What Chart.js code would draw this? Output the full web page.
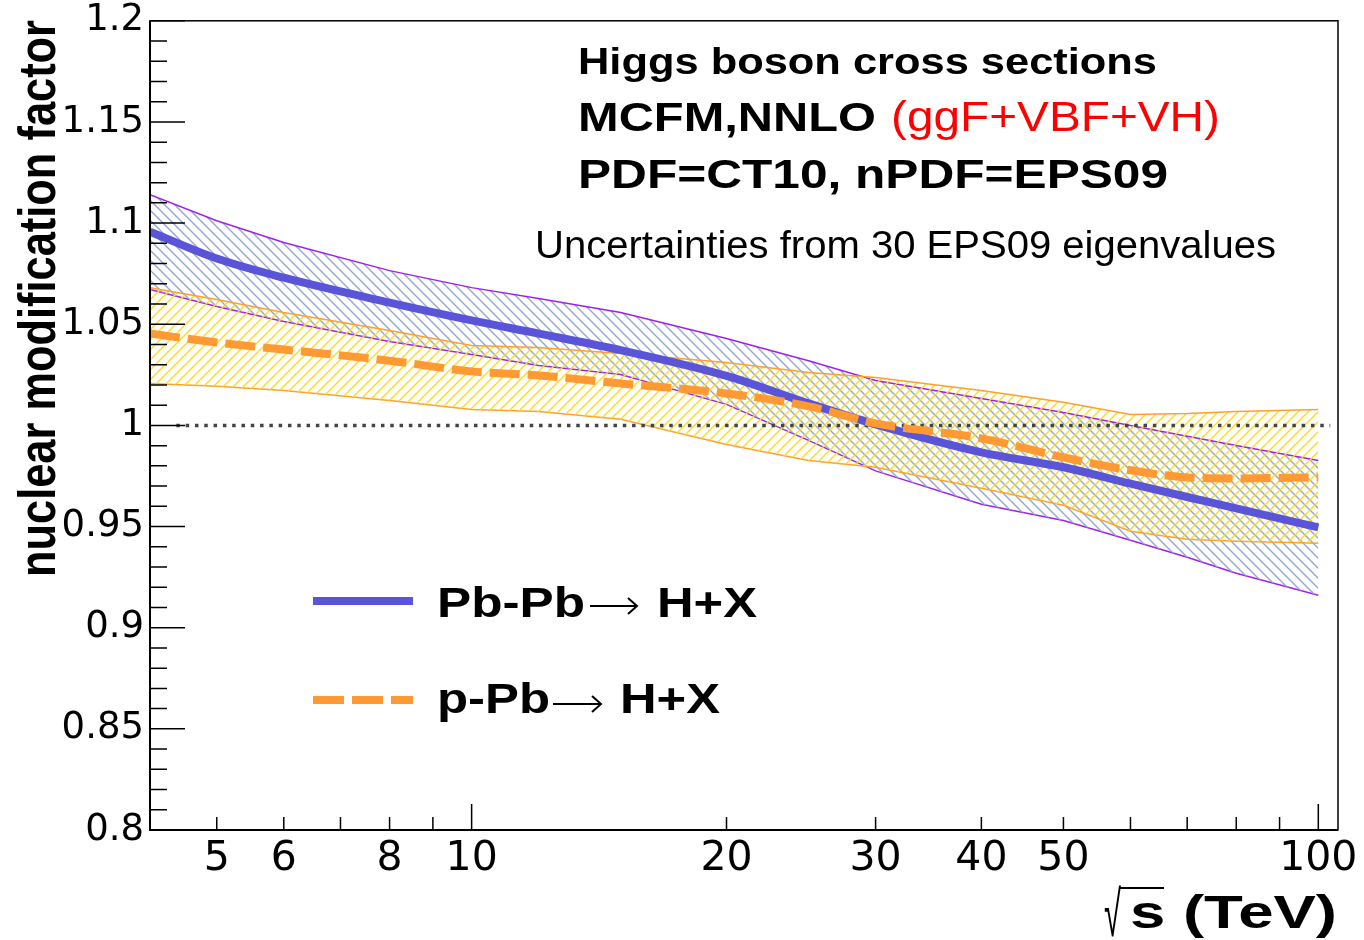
<!DOCTYPE html>
<html>
<head>
<meta charset="utf-8">
<script src="https://cdn.jsdelivr.net/npm/chart.js@4/dist/chart.umd.min.js"></script>
<style>
html,body{margin:0;padding:0;background:#fff;}
</style>
</head>
<body>
<canvas id="chart" width="1364" height="940"></canvas>
<script>
// ===== data (sqrt(s) in TeV) =====
const energies = [4.17, 5, 6, 8, 10, 12, 15, 20, 25, 30, 40, 50, 60, 70, 80, 100];

// Pb-Pb -> H+X : central + EPS09 band
const pbpbMid = [1.0958, 1.0825, 1.0730, 1.0607, 1.0519, 1.0454, 1.0372, 1.0245, 1.0109, 1.0005, 0.9867, 0.9793, 0.9712, 0.9646, 0.9590, 0.9496];
const pbpbUp  = [1.1141, 1.1012, 1.0904, 1.0765, 1.0681, 1.0627, 1.0558, 1.0430, 1.0320, 1.0222, 1.0133, 1.0064, 1.0000, 0.9946, 0.9901, 0.9827];
const pbpbLo  = [1.0672, 1.0588, 1.0514, 1.0415, 1.0351, 1.0296, 1.0252, 1.0104, 0.9926, 0.9775, 0.9610, 0.9530, 0.9432, 0.9348, 0.9269, 0.9160];

// p-Pb -> H+X
const ppbMid = [1.0454, 1.0410, 1.0375, 1.0320, 1.0267, 1.0247, 1.0207, 1.0158, 1.0094, 1.0010, 0.9936, 0.9842, 0.9778, 0.9743, 0.9738, 0.9743];
const ppbUp  = [1.0681, 1.0622, 1.0558, 1.0469, 1.0395, 1.0385, 1.0356, 1.0311, 1.0262, 1.0237, 1.0173, 1.0114, 1.0054, 1.0059, 1.0069, 1.0079];
const ppbLo  = [1.0207, 1.0193, 1.0173, 1.0123, 1.0079, 1.0069, 1.0030, 0.9906, 0.9827, 0.9793, 0.9689, 0.9605, 0.9477, 0.9437, 0.9427, 0.9417];

// reference line at 1
const refX = [4.48, 103.3];
const refY = 1;

// ticks
const xTicks  = [5, 6, 7, 8, 9, 10, 20, 30, 40, 50, 60, 70, 80, 90, 100];
const xLabels = [5, 6, 8, 10, 20, 30, 40, 50, 100];
const xMajor  = [10, 100];
const yTicks  = [0.8, 0.85, 0.9, 0.95, 1, 1.05, 1.1, 1.15, 1.2];
const yMinorStep = 0.01;

const pts = arr => energies.map((e, i) => ({x: e, y: arr[i]}));

const canvas = document.getElementById('chart');
const mainCtx = canvas.getContext('2d');

// ROOT-like hatch fill
function hatch(color, dir) {
  const c = document.createElement('canvas');
  c.width = 10; c.height = 10;
  const g = c.getContext('2d');
  g.strokeStyle = color;
  g.lineWidth = 1.4;
  g.beginPath();
  if (dir > 0) { // "/"
    g.moveTo(-1, 11); g.lineTo(11, -1);
    g.moveTo(-1, 1); g.lineTo(1, -1);
    g.moveTo(9, 11); g.lineTo(11, 9);
  } else { // "\"
    g.moveTo(-1, -1); g.lineTo(11, 11);
    g.moveTo(9, -1); g.lineTo(11, 1);
    g.moveTo(-1, 9); g.lineTo(1, 11);
  }
  g.stroke();
  return mainCtx.createPattern(c, 'repeat');
}

const BLUE = '#5a55d8';
const ORANGE = '#ff9933';
const PURPLE = '#a020f0';
const ORANGE_EDGE = '#ff9f30';

// draw text squeezed/stretched to a given width
function fitText(ctx, txt, x, y, font, w, color) {
  ctx.save();
  ctx.font = font;
  ctx.fillStyle = color || '#000';
  ctx.textBaseline = 'alphabetic';
  ctx.textAlign = 'left';
  const m = ctx.measureText(txt).width;
  ctx.translate(x, y);
  ctx.scale(w / m, 1);
  ctx.fillText(txt, 0, 0);
  ctx.restore();
}

// thin long arrow of the legend
function arrow(ctx, x0, x1, y) {
  ctx.save();
  ctx.strokeStyle = '#000';
  ctx.lineWidth = 2;
  ctx.beginPath();
  ctx.moveTo(x0, y); ctx.lineTo(x1, y);
  ctx.moveTo(x1 - 9, y - 8); ctx.lineTo(x1, y); ctx.lineTo(x1 - 9, y + 8);
  ctx.stroke();
  ctx.restore();
}

// ===== frame + inward ticks =====
const framePlugin = {
  id: 'frame',
  afterDraw(chart) {
    const {ctx, chartArea: a, scales: {x, y}} = chart;
    ctx.save();
    ctx.strokeStyle = '#000';
    ctx.lineWidth = 1.5;
    ctx.strokeRect(a.left, a.top, a.right - a.left, a.bottom - a.top);
    ctx.beginPath();
    xTicks.forEach(v => {
      const px = x.getPixelForValue(v);
      const len = xMajor.includes(v) ? 26 : 13;
      ctx.moveTo(px, a.bottom);
      ctx.lineTo(px, a.bottom - len);
    });
    for (let k = 0; k <= 40; k++) {
      const v = 0.8 + k * yMinorStep;
      const py = y.getPixelForValue(v);
      const len = (k % 5 === 0) ? 35 : 17;
      ctx.moveTo(a.left, py);
      ctx.lineTo(a.left + len, py);
    }
    ctx.stroke();
    ctx.lineWidth = 2;
    ctx.beginPath();
    ctx.moveTo(a.left, a.top); ctx.lineTo(a.left, a.bottom); ctx.lineTo(a.right, a.bottom);
    ctx.stroke();
    ctx.restore();
  }
};

// ===== texts, legend, axis titles =====
const textPlugin = {
  id: 'texts',
  afterDraw(chart) {
    const ctx = chart.ctx;
    const B = 'bold ', F = 'px "Liberation Sans", Arial, sans-serif';

    fitText(ctx, 'Higgs boson cross sections', 578, 74, B + 36 + F, 579);
    fitText(ctx, 'MCFM,NNLO', 578, 131, B + 41 + F, 298);
    fitText(ctx, '(ggF+VBF+VH)', 891, 131, 43 + F, 329, '#ff0000');
    fitText(ctx, 'PDF=CT10, nPDF=EPS09', 578, 188, B + 41 + F, 590);
    fitText(ctx, 'Uncertainties from 30 EPS09 eigenvalues', 535, 258, 38 + F, 741);

    // legend
    ctx.save();
    ctx.lineWidth = 8;
    ctx.strokeStyle = BLUE;
    ctx.beginPath(); ctx.moveTo(313, 601); ctx.lineTo(413, 601); ctx.stroke();
    ctx.strokeStyle = ORANGE;
    ctx.setLineDash([31, 8]);
    ctx.beginPath(); ctx.moveTo(313, 700); ctx.lineTo(413, 700); ctx.stroke();
    ctx.restore();
    fitText(ctx, 'Pb-Pb', 437, 617, B + 42 + F, 148);
    arrow(ctx, 590, 637, 606);
    fitText(ctx, 'H+X', 657, 617, B + 42 + F, 100);
    fitText(ctx, 'p-Pb', 437, 713, B + 42 + F, 113);
    arrow(ctx, 553, 601, 704);
    fitText(ctx, 'H+X', 620, 713, B + 42 + F, 100);

    // x title
    fitText(ctx, '\u221A', 1104, 936, 64 + F, 17);
    ctx.save();
    ctx.strokeStyle = '#000'; ctx.lineWidth = 2;
    ctx.beginPath(); ctx.moveTo(1119, 888); ctx.lineTo(1164, 888); ctx.stroke();
    ctx.restore();
    fitText(ctx, 's (TeV)', 1130, 928, B + 46 + F, 207);

    // y title (rotated)
    ctx.save();
    ctx.font = B + 43 + F;
    ctx.fillStyle = '#000';
    const t = 'nuclear modification factor';
    const m = ctx.measureText(t).width;
    ctx.translate(55, 577);
    ctx.rotate(-Math.PI / 2);
    ctx.scale(557 / m, 1.2);
    ctx.fillText(t, 0, 0);
    ctx.restore();
  }
};

const chart = new Chart(canvas, {
  type: 'line',
  data: {
    datasets: [
      {label: 'p-Pb', data: pts(ppbMid), borderColor: ORANGE, borderWidth: 8, borderDash: [30, 8],
       pointRadius: 0, fill: false, cubicInterpolationMode: 'monotone'},
      {label: 'Pb-Pb', data: pts(pbpbMid), borderColor: BLUE, borderWidth: 8,
       pointRadius: 0, fill: false, cubicInterpolationMode: 'monotone'},
      {label: 'ref', data: refX.map(v => ({x: v, y: refY})), borderColor: '#444', borderWidth: 3.5,
       borderDash: [3.5, 5.8], pointRadius: 0, fill: false},
      {label: 'p-Pb up', data: pts(ppbUp), borderColor: ORANGE_EDGE, borderWidth: 1.5, pointRadius: 0,
       fill: '+1', backgroundColor: hatch('#ffdc10', 1)},
      {label: 'p-Pb lo', data: pts(ppbLo), borderColor: ORANGE_EDGE, borderWidth: 1.5, pointRadius: 0, fill: false},
      {label: 'Pb-Pb up', data: pts(pbpbUp), borderColor: PURPLE, borderWidth: 1.5, pointRadius: 0,
       fill: '+1', backgroundColor: hatch('#93a6d8', -1)},
      {label: 'Pb-Pb lo', data: pts(pbpbLo), borderColor: PURPLE, borderWidth: 1.5, pointRadius: 0, fill: false}
    ]
  },
  options: {
    responsive: false,
    animation: false,
    layout: {padding: {top: 20, right: 26, left: 0, bottom: 0}},
    plugins: {legend: {display: false}, tooltip: {enabled: false}},
    scales: {
      x: {
        type: 'logarithmic',
        min: 4.17,
        max: 105.5,
        afterBuildTicks: s => { s.ticks = xTicks.map(v => ({value: v})); },
        afterFit: s => { s.height = 110; },
        grid: {display: false, drawTicks: false},
        border: {display: false},
        ticks: {
          autoSkip: false, maxRotation: 0, padding: 5, color: '#000',
          font: {family: '"DejaVu Sans"', size: 41},
          callback: v => xLabels.includes(v) ? String(v) : ''
        }
      },
      y: {
        min: 0.8,
        max: 1.2,
        afterBuildTicks: s => { s.ticks = yTicks.map(v => ({value: v})); },
        afterFit: s => { s.width = 150; },
        grid: {display: false, drawTicks: false},
        border: {display: false},
        ticks: {
          padding: 6, color: '#000',
          font: {family: '"DejaVu Sans"', size: 37, lineHeight: 0.8},
          callback: v => String(+Number(v).toFixed(2))
        }
      }
    }
  },
  plugins: [framePlugin, textPlugin]
});
</script>
</body>
</html>
